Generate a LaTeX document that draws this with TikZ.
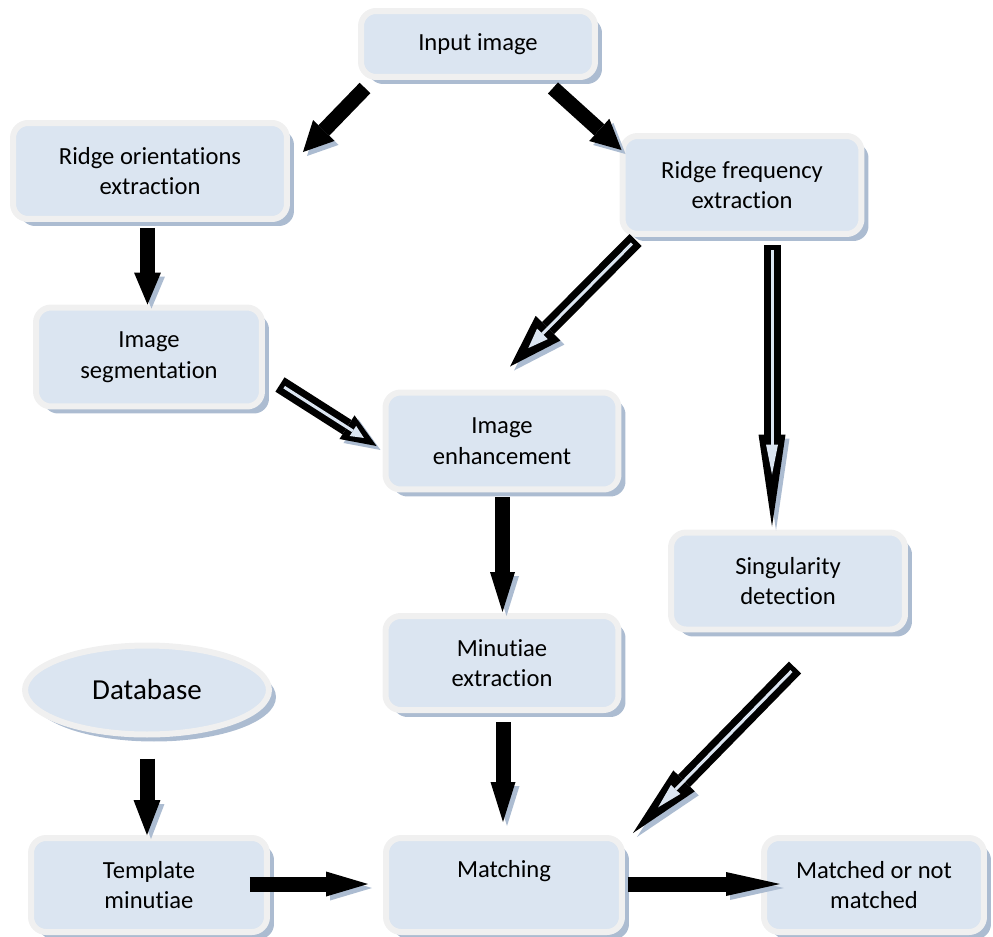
\documentclass[tikz,border=0pt]{standalone}
\usepackage{fontspec}
\setmainfont{Carlito}[RawFeature={-liga;-clig;-dlig}]
\usetikzlibrary{positioning,arrows.meta,shapes.geometric,shadows,calc}
\definecolor{boxfill}{RGB}{219,229,241}
\definecolor{boxrim}{RGB}{240,240,240}
\definecolor{shadowblue}{RGB}{172,188,209}

\begin{document}
\begin{tikzpicture}[x=0.02cm, y=-0.02cm,
  box/.style={draw=boxrim, line width=0.12cm, fill=boxfill, rounded corners=0.3cm, align=center, inner sep=2pt,
    font=\fontsize{14}{17.5}\selectfont,
    drop shadow={shadow xshift=0.14cm, shadow yshift=-0.14cm, fill=shadowblue, opacity=1}},
  store/.style={box, ellipse, inner sep=0pt, font=\fontsize{16.5}{20}\selectfont},
  fat/.style 2 args={draw=black, line width=0.3cm, -{Triangle[length=#1, width=#2, line width=0pt]},
    preaction={draw=shadowblue, transform canvas={shift={(0.08cm,-0.08cm)}}}},
  holl/.style n args={5}{draw=black, line width=0.34cm, -{Triangle[length=#1, width=#2, line width=0pt]},
    preaction={draw=shadowblue, transform canvas={shift={(0.08cm,-0.08cm)}}},
    postaction={draw=boxfill, line width=0.06cm, shorten <=0.1cm, shorten >=#5,
      -{Triangle[length=#3, width=#4, line width=0pt]}}}
]
\useasboundingbox (0,0) rectangle (993,936);

% boxes
\node[box, minimum width=4.68cm, minimum height=1.32cm] (input) at (478,44) {Input image};
\node[box, minimum width=5.48cm, minimum height=1.92cm] (orient) at (150,171) {Ridge orientations\\extraction};
\node[box, minimum width=4.78cm, minimum height=1.96cm] (freq) at (742,185) {Ridge frequency\\extraction};
\node[box, minimum width=4.52cm, minimum height=1.98cm] (seg) at (149,357) {Image\\segmentation};
\node[box, minimum width=4.66cm, minimum height=1.94cm] (enh) at (502,441) {Image\\enhancement};
\node[box, minimum width=4.68cm, minimum height=1.94cm] (sing) at (788,581) {Singularity\\detection};
\node[box, minimum width=4.66cm, minimum height=1.88cm] (minu) at (502,663) {Minutiae\\extraction};
\node[store, minimum width=4.88cm, minimum height=1.78cm] (db) at (147,690) {Database};
\node[box, minimum width=4.72cm, minimum height=1.88cm] (tmpl) at (149,885) {Template\\minutiae};
\node[box, minimum width=4.72cm, minimum height=1.88cm, text depth=0.65cm] (match) at (504,885) {Matching};
\node[box, minimum width=4.40cm, minimum height=1.88cm] (result) at (874,885) {Matched or not\\matched};

% block arrows
\draw[fat={0.6cm}{0.6cm}] ($(input.south west)+(7,8)$) -- ($(orient.north east)+(13,32)$);
\draw[fat={0.6cm}{0.6cm}] ($(input.south east)+(-45,8)$) -- ($(freq.north west)+(2,17)$);
\draw[fat={0.64cm}{0.54cm}] ($(orient.south)+(-2.5,6)$) -- ($(seg.north)+(-1.5,0)$);
\draw[holl={0.7cm}{0.56cm}{0.26cm}{0.24cm}{0.3cm}] ($(seg.south east)+(15,-25)$) -- ($(enh.west)+(-6,5)$);
\draw[holl={1.08cm}{0.7cm}{0.4cm}{0.3cm}{0.52cm}] ($(freq.south west)+(16,3)$) -- ($(enh.north)+(8,-23)$);
\draw[holl={1.84cm}{0.54cm}{0.6cm}{0.24cm}{1.04cm}] ($(freq.south)+(30,8)$) -- ($(sing.north)+(-16,-3)$);
\draw[fat={0.8cm}{0.5cm}] ($(enh.south)+(0.5,5)$) -- ($(minu.north)+(0.5,-1)$);
\draw[fat={0.8cm}{0.5cm}] ($(minu.south)+(1,9)$) -- ($(match.north)+(-1,-13)$);
\draw[holl={1.46cm}{0.6cm}{0.5cm}{0.26cm}{0.72cm}] ($(sing.south)+(7,35)$) -- ($(match.north east)+(8,-2)$);
\draw[fat={0.7cm}{0.54cm}] ($(db.south)+(0,21)$) -- ($(tmpl.north)+(-2,0)$);
\draw[fat={0.84cm}{0.5cm}] ($(tmpl.east)+(-20,-1)$) -- ($(match.west)+(-15,-1)$);
\draw[fat={1.08cm}{0.48cm}] ($(match.east)+(3,-1)$) -- ($(result.west)+(19,-1)$);
\end{tikzpicture}
\end{document}
